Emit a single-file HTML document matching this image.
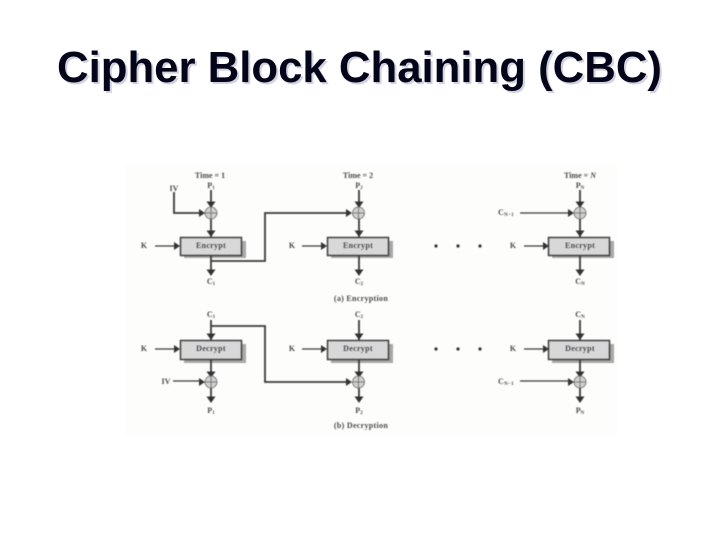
<!DOCTYPE html>
<html><head><meta charset="utf-8"><style>
html,body{margin:0;padding:0;background:#fff}
svg{display:block}
.t{font-family:"Liberation Sans",sans-serif;font-weight:bold;font-size:44px}
.l{font-family:"Liberation Serif",serif;font-size:8px;fill:#4a4a4a;font-weight:bold;text-anchor:middle}
.s{font-size:5px}
.c{font-family:"Liberation Serif",serif;font-size:8px;fill:#4a4a4a;font-weight:bold;text-anchor:middle;letter-spacing:.3px}
.w{stroke:#3a3a3a;stroke-width:1.8;fill:none}
.th{stroke:#3a3a3a;stroke-width:1.3;fill:none}
.b{fill:#d8d8d8;stroke:#3f3f3f;stroke-width:1.5}
.sh{fill:#a8a8a8}
.x{fill:#d0d0d0;stroke:#666;stroke-width:.8}
.a{fill:#333}
</style></head><body>
<svg width="720" height="540" viewBox="0 0 720 540" xmlns="http://www.w3.org/2000/svg">
<defs>
<g id="ad"><path class="a" d="M-4.500,-5.500H4.500L0,1Z"/></g>
<g id="ar"><path class="a" d="M-6,-4V4L0,0Z"/></g>
<g id="xr"><circle class="x" r="6"/><path d="M-6,0H6M0,-6V6" stroke="#666" stroke-width=".8"/></g>
</defs>
<rect x="125" y="165" width="492" height="270" fill="#fdfdfb"/>
<text class="t" x="59" y="84" textLength="605" lengthAdjust="spacingAndGlyphs" fill="#d2d2e6">Cipher Block Chaining (CBC)</text>
<text class="t" x="57" y="82" textLength="605" lengthAdjust="spacingAndGlyphs" fill="#05051a">Cipher Block Chaining (CBC)</text>
<g style="filter:blur(.45px)">
<!-- Encryption -->
<text class="l" x="210" y="178">Time = 1</text>
<text class="l" x="358" y="178">Time = 2</text>
<text class="l" x="580" y="178">Time = <tspan font-style="italic">N</tspan></text>
<text class="l" x="211" y="188">P<tspan class="s" dy="1">1</tspan></text>
<text class="l" x="359" y="188">P<tspan class="s" dy="1">2</tspan></text>
<text class="l" x="580" y="188">P<tspan class="s" dy="1">N</tspan></text>
<text class="l" x="174" y="191">IV</text>
<path class="w" d="M174,192V213H200"/>
<path class="w" d="M211,190V237M359,190V237M580,190V237"/>
<use href="#ad" x="211" y="207"/><use href="#ad" x="359" y="207"/><use href="#ad" x="580" y="207"/>
<use href="#ad" x="211" y="236"/><use href="#ad" x="359" y="236"/><use href="#ad" x="580" y="236"/>
<use href="#xr" x="211" y="213"/><use href="#xr" x="358.500" y="213"/><use href="#xr" x="580" y="213"/>
<use href="#ar" x="205" y="213"/><use href="#ar" x="352" y="213"/><use href="#ar" x="574" y="213"/>
<path class="w" d="M211,261H265V213H347"/>
<path class="th" d="M520,213H570"/>
<text class="c" x="506" y="215">C<tspan class="s" dy="1">N−1</tspan></text>
<rect class="sh" x="184" y="241" width="62" height="17"/><rect class="b" x="180.500" y="237.500" width="61" height="18"/>
<rect class="sh" x="331" y="241" width="62" height="17"/><rect class="b" x="327.500" y="237.500" width="61" height="18"/>
<rect class="sh" x="552" y="241" width="62" height="17"/><rect class="b" x="548.500" y="237.500" width="61" height="18"/>
<text class="c" x="211" y="248">Encrypt</text><text class="c" x="358" y="248">Encrypt</text><text class="c" x="580" y="248">Encrypt</text>
<text class="l" x="144" y="248">K</text><text class="l" x="292" y="248">K</text><text class="l" x="513" y="248">K</text>
<path class="th" d="M155,246H175M302,246H322M524,246H544"/>
<use href="#ar" x="180" y="246"/><use href="#ar" x="327" y="246"/><use href="#ar" x="549" y="246"/>
<path class="w" d="M211,256V272M359,256V272M580,256V272"/>
<use href="#ad" x="211" y="275"/><use href="#ad" x="359" y="275"/><use href="#ad" x="580" y="275"/>
<text class="l" x="211" y="284">C<tspan class="s" dy="1">1</tspan></text>
<text class="l" x="359" y="284">C<tspan class="s" dy="1">2</tspan></text>
<text class="l" x="580" y="284">C<tspan class="s" dy="1">N</tspan></text>
<text class="c" x="361" y="301">(a) Encryption</text>
<circle cx="436" cy="246" r="1.600" fill="#333"/><circle cx="458" cy="246" r="1.600" fill="#333"/><circle cx="480" cy="246" r="1.600" fill="#333"/>
<!-- Decryption -->
<text class="l" x="211" y="317">C<tspan class="s" dy="1">1</tspan></text>
<text class="l" x="359" y="317">C<tspan class="s" dy="1">2</tspan></text>
<text class="l" x="580" y="317">C<tspan class="s" dy="1">N</tspan></text>
<path class="w" d="M211,320V340M359,320V340M580,320V340"/>
<use href="#ad" x="211" y="339"/><use href="#ad" x="359" y="339"/><use href="#ad" x="580" y="339"/>
<path class="w" d="M211,326H265V382H347"/>
<rect class="sh" x="184" y="344" width="62" height="19"/><rect class="b" x="180.500" y="340.500" width="61" height="19"/>
<rect class="sh" x="331" y="344" width="62" height="19"/><rect class="b" x="327.500" y="340.500" width="61" height="19"/>
<rect class="sh" x="552" y="344" width="62" height="19"/><rect class="b" x="548.500" y="340.500" width="61" height="19"/>
<text class="c" x="211" y="351">Decrypt</text><text class="c" x="358" y="351">Decrypt</text><text class="c" x="580" y="351">Decrypt</text>
<text class="l" x="144" y="351">K</text><text class="l" x="292" y="351">K</text><text class="l" x="513" y="351">K</text>
<path class="th" d="M155,349H175M302,349H322M524,349H544"/>
<use href="#ar" x="180" y="349"/><use href="#ar" x="327" y="349"/><use href="#ar" x="549" y="349"/>
<path class="w" d="M211,360V400M359,360V400M580,360V400"/>
<use href="#ad" x="211" y="377"/><use href="#ad" x="359" y="377"/><use href="#ad" x="580" y="377"/>
<use href="#xr" x="211" y="382"/><use href="#xr" x="358.500" y="382"/><use href="#xr" x="580" y="382"/>
<use href="#ar" x="205" y="382"/><use href="#ar" x="352" y="382"/><use href="#ar" x="574" y="382"/>
<use href="#ad" x="211" y="402"/><use href="#ad" x="359" y="402"/><use href="#ad" x="580" y="402"/>
<path class="th" d="M173,381H200M520,381H570"/>
<text class="l" x="166" y="384">IV</text>
<text class="c" x="506" y="384">C<tspan class="s" dy="1">N−1</tspan></text>
<text class="l" x="211" y="413">P<tspan class="s" dy="1">1</tspan></text>
<text class="l" x="359" y="413">P<tspan class="s" dy="1">2</tspan></text>
<text class="l" x="580" y="413">P<tspan class="s" dy="1">N</tspan></text>
<text class="c" x="361" y="428">(b) Decryption</text>
<circle cx="436" cy="349" r="1.600" fill="#333"/><circle cx="458" cy="349" r="1.600" fill="#333"/><circle cx="480" cy="349" r="1.600" fill="#333"/>
</g>
</svg>
</body></html>
